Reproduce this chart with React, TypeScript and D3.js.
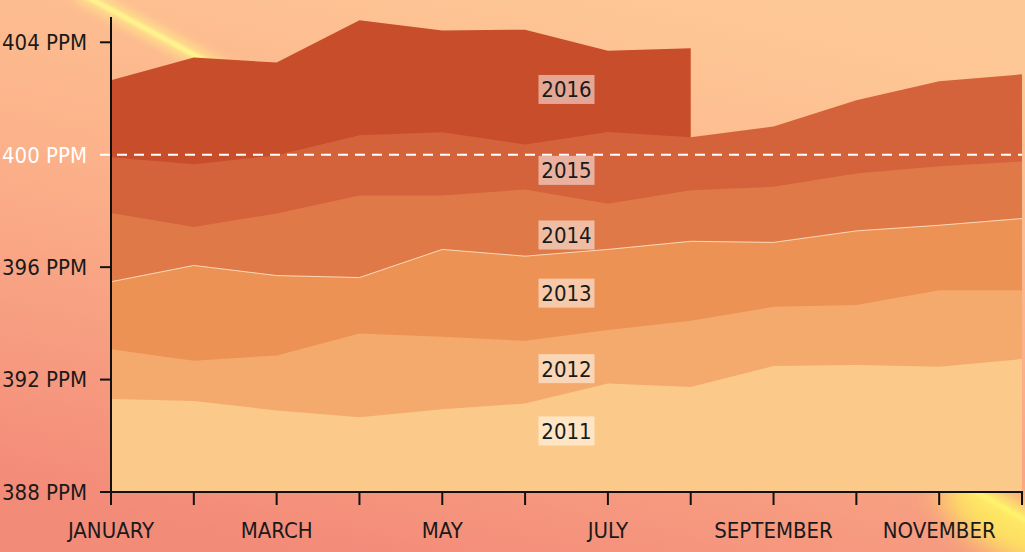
import React from "react";
import * as d3 from "d3";

// monthly CO2 readings (ppm)
const months = [
  "JANUARY", "FEBRUARY", "MARCH", "APRIL", "MAY", "JUNE",
  "JULY", "AUGUST", "SEPTEMBER", "OCTOBER", "NOVEMBER", "DECEMBER",
];
const years = ["2011", "2012", "2013", "2014", "2015", "2016"];

const co2_2011 = [391.31, 391.24, 390.9, 390.66, 390.94, 391.15, 391.86, 391.74, 392.48, 392.52, 392.46, 392.73];
const co2_2012 = [393.08, 392.67, 392.86, 393.64, 393.52, 393.38, 393.76, 394.09, 394.59, 394.65, 395.18, 395.18];
const co2_2013 = [395.48, 396.06, 395.7, 395.63, 396.63, 396.39, 396.63, 396.92, 396.88, 397.29, 397.49, 397.73];
const co2_2014 = [397.93, 397.43, 397.91, 398.55, 398.55, 398.76, 398.26, 398.74, 398.86, 399.33, 399.59, 399.76];
const co2_2015 = [399.91, 399.66, 399.98, 400.69, 400.8, 400.36, 400.81, 400.62, 401.0, 401.94, 402.61, 402.86];
const co2_2016 = [402.65, 403.46, 403.28, 404.78, 404.42, 404.45, 403.7, 403.79];

const series = [co2_2011, co2_2012, co2_2013, co2_2014, co2_2015, co2_2016];
const colors = ["#fbca8b", "#f4aa6c", "#eb9254", "#df7a48", "#d4633c", "#c84d2b"];

const yTicks = [388, 392, 396, 400, 404];
const threshold = 400;

const W = 1025;
const H = 552;
const margin = { top: 17, right: 3, bottom: 60, left: 111 };
const font = "'DejaVu Sans Condensed', 'Liberation Sans Narrow', Roboto, sans-serif";

export default function App() {
  const x = d3.scalePoint<string>().domain(months).range([margin.left, W - margin.right]);
  const y = d3.scaleLinear().domain([388, 404.9]).range([H - margin.bottom, margin.top]);

  const area = d3
    .area<number>()
    .x((d, i) => x(months[i])!)
    .y0(y(388))
    .y1((d) => y(d));
  const line = d3
    .line<number>()
    .x((d, i) => x(months[i])!)
    .y((d) => y(d));

  const cx = (margin.left + W - margin.right) / 2;
  const baseY = y(388);
  const streak = "M78,-8 Q520,230 1060,540";

  return (
    <div style={{ position: "fixed", left: 0, top: 0 }}>
      <svg width={W} height={H} style={{ display: "block" }}>
        <defs>
          <linearGradient id="bg" x1="0.7" y1="0" x2="0.3" y2="1">
            <stop offset="0" stopColor="#fec896" />
            <stop offset="0.45" stopColor="#fcb28a" />
            <stop offset="1" stopColor="#f38b79" />
          </linearGradient>
          <filter id="glow" x="-20%" y="-20%" width="140%" height="140%">
            <feGaussianBlur stdDeviation="5" />
          </filter>
          <filter id="wide" x="-50%" y="-50%" width="200%" height="200%">
            <feGaussianBlur stdDeviation="14" />
          </filter>
          <filter id="soft" x="-20%" y="-20%" width="140%" height="140%">
            <feGaussianBlur stdDeviation="1.5" />
          </filter>
        </defs>

        {/* background + light streak */}
        <rect width={W} height={H} fill="url(#bg)" />
        <path d={streak} fill="none" stroke="#ffe98a" strokeWidth={18} opacity={0.7} filter="url(#glow)" />
        <path d={streak} fill="none" stroke="#fff68e" strokeWidth={5} filter="url(#soft)" />
        <ellipse
          cx={1005}
          cy={525}
          rx={75}
          ry={26}
          transform="rotate(32 1005 525)"
          fill="#fff25c"
          opacity={0.85}
          filter="url(#wide)"
        />

        {/* year layers, back to front */}
        {series
          .map((vals, i) => ({ vals, i }))
          .reverse()
          .map(({ vals, i }) => (
            <path key={years[i]} d={area(vals)!} fill={colors[i]} />
          ))}
        <path d={line(co2_2013)!} fill="none" stroke="#fde1c4" strokeWidth={1} opacity={0.9} />

        {/* 400 ppm line */}
        <line
          x1={margin.left - 11}
          x2={W - margin.right}
          y1={y(threshold)}
          y2={y(threshold)}
          stroke="#fff"
          strokeWidth={2}
          strokeDasharray="10,7"
        />

        {/* year labels */}
        {series.map((vals, i) => {
          const ly = y(d3.mean(vals)!) + 42;
          return (
            <g key={"lab" + years[i]} transform={`translate(${cx},${ly})`}>
              <rect x={-28} y={-14.5} width={56} height={29} fill="#fff" opacity={0.5} />
              <text textAnchor="middle" dy="0.36em" fontSize={22} fontFamily={font} fill="#1a1a1a">
                {years[i]}
              </text>
            </g>
          );
        })}

        {/* y axis */}
        <line x1={margin.left} x2={margin.left} y1={margin.top} y2={baseY} stroke="#111" strokeWidth={2} />
        {yTicks.map((t) => {
          const white = t === threshold;
          return (
            <g key={t} transform={`translate(0,${y(t)})`}>
              {!white && <line x1={margin.left - 11} x2={margin.left} stroke="#111" strokeWidth={2} />}
              <text
                x={margin.left - 24}
                dy="0.36em"
                textAnchor="end"
                fontSize={22}
                fontFamily={font}
                fill={white ? "#fff" : "#1a1a1a"}
              >
                {t} PPM
              </text>
            </g>
          );
        })}

        {/* x axis */}
        <line x1={margin.left - 11} x2={W - margin.right + 1} y1={baseY} y2={baseY} stroke="#111" strokeWidth={2} />
        {months.map((m, i) => (
          <g key={m} transform={`translate(${x(m)},${baseY})`}>
            <line y1={0} y2={13} stroke="#111" strokeWidth={2} />
            {i % 2 === 0 && (
              <text y={46} textAnchor="middle" fontSize={22} fontFamily={font} fill="#1a1a1a">
                {m}
              </text>
            )}
          </g>
        ))}
      </svg>
    </div>
  );
}
